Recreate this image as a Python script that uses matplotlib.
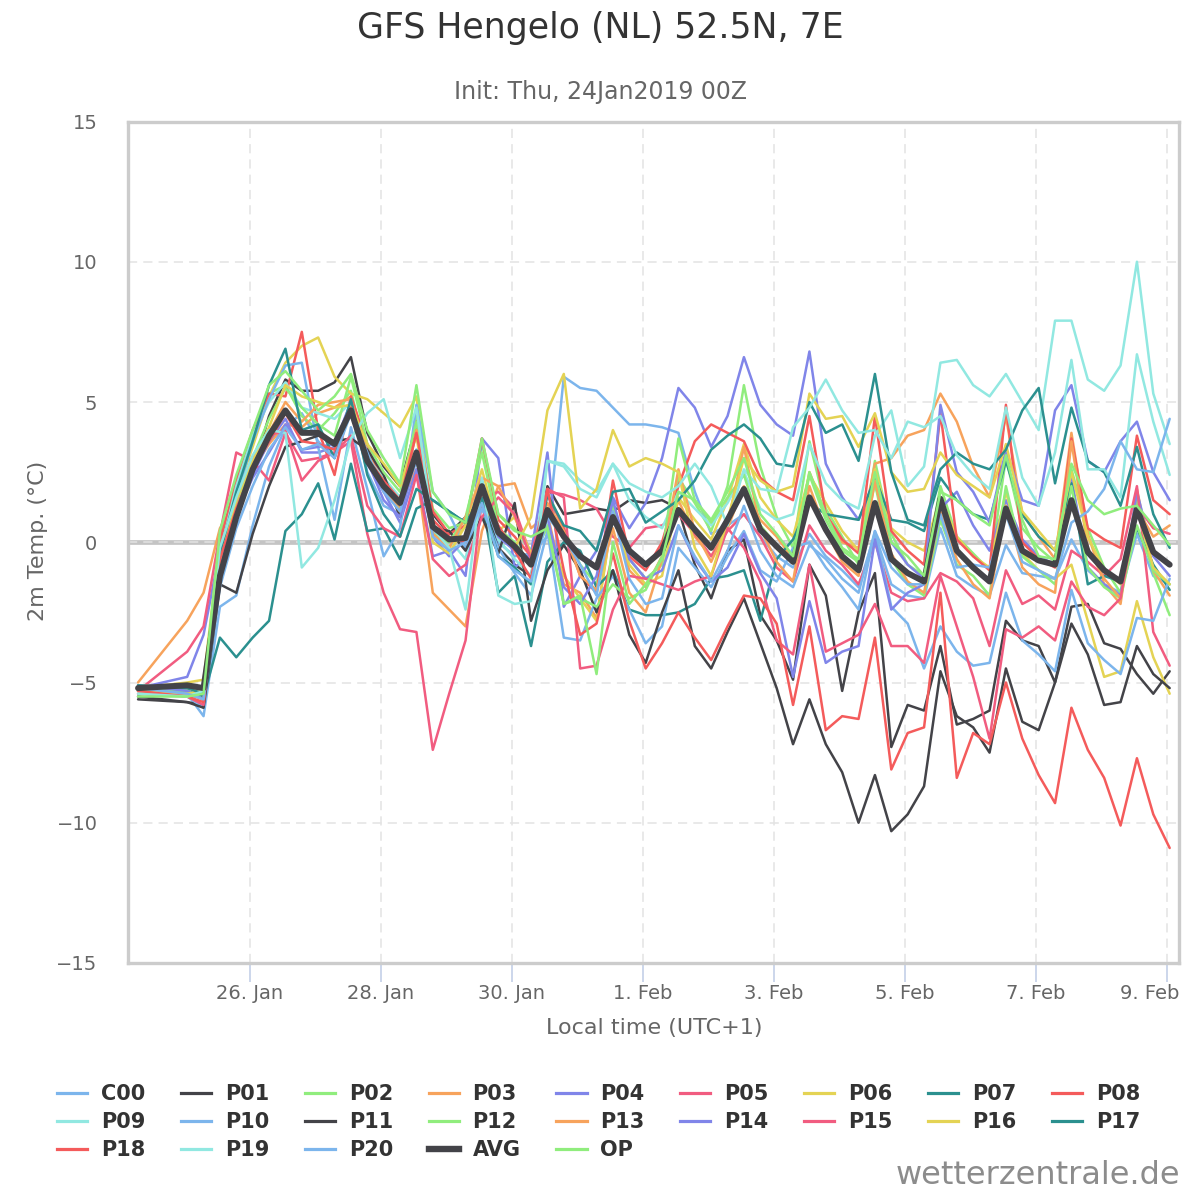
import pandas as pd
import matplotlib.pyplot as plt
from matplotlib.lines import Line2D
from matplotlib.transforms import ScaledTranslation

plt.rcParams['font.family'] = ['DejaVu Sans']

# time steps in local time (UTC+1): first step, then every 6 hours
times = pd.DatetimeIndex([pd.Timestamp('2019-01-24 07:00')] +
                         list(pd.date_range('2019-01-25 01:00', '2019-02-09 01:00', freq='6h')))

# 2m temperature (deg C) per ensemble member
C00 = [-5.3, -5.4, -6.2, -2.3, -1.9, 0.6, 2.7, 4.1,
       4.6, 3.6, 3.0, 4.9, 2.5, 1.3, 1.0, 2.9,
       0.4, 0.0, 0.6, 1.6, 0.0, -0.5, -0.4, 0.2,
       5.9, 5.5, 5.4, 4.8, 4.2, 4.2, 4.1, 3.9,
       1.8, 0.3, 0.6, 1.0, 0.2, -0.5, -0.9, 0.3,
       -0.5, -1.0, -1.6, 0.3, -1.5, -1.9, -2.0, 0.5,
       -1.2, -1.6, -1.9, -0.1, -1.1, -1.2, -1.3, 0.1,
       -1.0, -1.5, -1.8, 0.3, -1.2, -1.5]
P01 = [-5.5, -5.7, -5.8, -1.0, 0.8, 2.5, 4.5, 5.8,
       5.4, 5.4, 5.7, 6.6, 3.9, 2.7, 2.0, 4.2,
       1.0, 0.3, 0.9, 1.5, -0.2, -0.8, -1.2, 2.0,
       1.0, 1.1, 1.2, 1.1, 1.5, 1.4, 1.5, 1.2,
       -0.8, -2.0, -0.3, 0.1, -2.6, -3.5, -4.9, -0.8,
       -1.9, -5.3, -2.5, -1.1, -7.3, -5.8, -6.0, -3.7,
       -6.5, -6.3, -6.0, -2.8, -3.5, -3.7, -5.0, -2.3,
       -2.2, -3.6, -3.8, -4.7, -5.4, -4.6]
P02 = [-5.3, -5.5, -5.5, 0.2, 2.0, 3.5, 5.3, 5.6,
       4.5, 4.0, 4.6, 5.4, 3.0, 1.8, 1.2, 4.5,
       1.2, 0.5, 0.7, 3.5, 1.0, 0.5, -0.3, 1.8,
       0.5, -0.8, -1.5, 1.3, -0.6, -1.3, -0.8, 2.3,
       1.4, 0.4, 2.0, 5.6, 2.7, 0.9, -0.2, 3.6,
       1.2, 0.2, -0.8, 2.9, 0.3, -0.8, -1.2, 2.0,
       0.2, -0.4, -1.0, 3.0, 0.5, -0.2, -0.7, 2.6,
       0.5, -0.9, -1.8, 1.5, -1.1, -2.6]
P03 = [-5.0, -2.8, -1.8, 0.5, 1.5, 2.6, 3.5, 4.2,
       4.1, 4.6, 4.8, 5.2, 3.3, 2.1, 1.4, 2.6,
       -1.8, -2.4, -3.0, 0.4, 2.0, 2.1, 0.5, 1.0,
       -1.5, -1.8, -2.7, 1.0, -1.0, -1.6, -0.5, 1.5,
       0.2, -0.5, 0.5, 2.0, 0.8, 0.2, -0.6, 2.5,
       1.0, 0.0, -0.2, 2.8, 3.0, 3.8, 4.0, 5.3,
       4.3, 2.7, 1.6, 4.5, 1.0, 0.2, -0.6, 3.9,
       0.3, -1.5, -2.2, 1.9, -1.0, -1.9]
P04 = [-5.2, -4.8, -3.3, -0.3, 1.1, 2.4, 3.6, 4.4,
       3.2, 3.2, 3.4, 5.0, 2.8, 1.8, 0.7, 2.6,
       -0.5, -0.3, -1.2, 3.7, 3.0, -0.9, -0.4, 3.2,
       -2.3, -1.2, -0.3, 1.6, 0.5, 1.4, 3.0, 5.5,
       4.8, 3.4, 4.5, 6.6, 4.9, 4.2, 3.8, 6.8,
       2.8, 1.6, 0.8, 2.1, 0.0, -0.8, -1.3, 1.2,
       1.8, 0.6, -0.3, 1.5, 0.1, -0.5, -0.8, 2.3,
       -0.9, -1.5, -1.9, 1.8, -0.5, -1.2]
P05 = [-5.3, -3.9, -3.0, 0.3, 3.2, 2.9, 2.2, 3.9,
       2.9, 3.0, 3.2, 3.6, 0.3, -1.8, -3.1, -3.2,
       -7.4, -5.4, -3.5, 1.5, 1.8, 1.2, -0.5, 1.8,
       1.7, 1.5, 1.2, 0.2, -0.2, 0.5, 0.6, 1.0,
       0.3, -0.5, 0.4, 1.0, 0.2, -0.9, -1.4, 0.6,
       -0.3, -0.8, -1.5, 0.0, -1.8, -2.1, -2.0, -1.1,
       -1.4, -2.0, -3.7, -1.0, -2.2, -1.9, -2.4, -0.3,
       -0.7, -1.2, -0.6, 2.0, -3.2, -4.4]
P06 = [-5.2, -5.0, -4.9, 0.0, 1.7, 3.4, 5.2, 6.4,
       7.0, 7.3, 5.9, 5.3, 5.1, 4.6, 4.1, 5.2,
       0.5, -0.2, 0.6, 2.6, 0.4, 0.9, -0.4, 0.5,
       -1.2, -2.0, -2.8, 1.0, -0.8, -1.5, -1.2, 1.6,
       0.8, 0.1, 1.5, 3.5, 1.6, 0.8, 0.2, 2.4,
       1.4, 0.4, -0.3, 2.6, 0.5, 0.0, -0.3, 1.6,
       0.2, -0.5, -0.9, 1.8, -0.4, -1.0, -1.3, -0.8,
       -2.8, -4.8, -4.6, -2.1, -4.1, -5.4]
P07 = [-5.2, -5.3, -5.5, -3.4, -4.1, -3.4, -2.8, 0.4,
       1.0, 2.1, 0.1, 2.8, 0.4, 0.5, -0.6, 1.2,
       1.5, 1.1, 0.7, 1.5, -1.8, -1.2, -3.7, -0.7,
       0.0, -0.3, -1.6, -1.0, -2.4, -2.6, -2.6, -2.5,
       -2.2, -1.3, -1.2, -1.0, -2.8, -0.6, 0.1, 1.4,
       1.0, 0.9, 0.8, 2.3, 0.8, 0.7, 0.4, 2.3,
       1.5, 1.0, 0.8, 2.9, 1.0, 0.2, -0.3, 2.1,
       -1.5, -1.2, -1.4, 0.5, -0.8, -1.7]
P08 = [-5.3, -5.4, -5.6, 0.0, 2.2, 4.0, 5.3, 5.2,
       7.5, 4.0, 2.4, 5.2, 3.5, 2.1, 1.3, 4.3,
       1.1, 0.3, 0.6, 3.7, 0.8, 0.2, -0.5, 1.7,
       0.5, -1.2, -1.8, 2.2, -0.5, -1.0, 0.0, 2.0,
       3.6, 4.2, 3.9, 3.6, 2.3, 1.8, 1.5, 4.5,
       1.0, 0.1, -0.4, 4.5, 0.4, -0.3, -0.8, 4.6,
       0.1, -0.5, -1.0, 4.9, 0.0, -0.6, -0.9, 3.7,
       0.5, 0.1, -0.2, 3.8, 1.5, 1.0]
P09 = [-5.3, -5.2, -5.3, -0.4, 2.0, 3.8, 5.0, 5.7,
       4.8, 4.6, 4.4, 5.0, 3.0, 2.3, 1.6, 3.3,
       0.6, 0.1, -0.6, 2.2, 0.1, -0.6, -1.2, 2.9,
       2.8, 2.2, 1.8, 2.8, 1.5, 0.9, 0.5, 1.8,
       1.2, 0.6, 1.4, 2.5, 1.2, 0.8, 1.0, 3.5,
       2.1, 1.5, 1.2, 3.8, 4.7, 2.0, 2.7, 6.4,
       6.5, 5.6, 5.2, 6.0, 5.0, 4.0, 7.9, 7.9,
       5.8, 5.4, 6.3, 10.0, 5.3, 3.5]
P10 = [-5.3, -5.5, -5.9, -0.8, 1.6, 3.6, 5.1, 6.3,
       6.4, 3.4, 0.8, 4.1, 1.9, -0.5, 0.5, 4.9,
       1.8, 1.0, -0.2, 1.2, -0.2, -1.1, -1.9, 0.4,
       -3.4, -3.5, -2.0, -1.2, -2.4, -3.6, -3.0, -0.2,
       -0.9, -1.6, -0.5, 0.4, -1.0, -1.4, -0.2, 0.0,
       -0.9, -1.6, -2.4, 0.4, -2.3, -2.9, -4.5, -3.0,
       -3.9, -4.4, -4.3, -1.8, -3.5, -4.0, -4.6, -1.7,
       -3.6, -4.2, -4.7, -2.7, -2.8, -1.3]
P11 = [-5.6, -5.7, -5.9, -1.5, -1.8, 0.3, 2.0, 3.4,
       3.6, 3.8, 3.6, 3.7, 3.3, 2.4, 0.9, 4.2,
       0.5, 0.4, -0.3, 0.9, -0.4, 1.4, -2.8, -1.0,
       -0.1, -1.0, -2.5, -1.0, -3.3, -4.3, -2.5, -1.0,
       -3.7, -4.5, -3.2, -2.0, -3.6, -5.2, -7.2, -5.6,
       -7.2, -8.2, -10.0, -8.3, -10.3, -9.7, -8.7, -4.6,
       -6.2, -6.6, -7.5, -4.5, -6.4, -6.7, -5.0, -2.9,
       -4.0, -5.8, -5.7, -3.7, -4.7, -5.2]
P12 = [-5.2, -5.3, -5.6, -0.5, 1.3, 3.0, 4.4, 5.5,
       4.8, 4.2, 3.8, 5.9, 3.5, 2.5, 1.8, 4.3,
       0.3, 0.0, 0.9, 3.2, 0.5, 0.0, -0.8, 0.6,
       -2.2, -2.0, -2.3, -1.5, -2.0, -1.7, -0.5, 3.7,
       1.5, 0.7, 1.6, 2.4, 0.6, -0.1, -0.6, 2.4,
       0.8, -0.3, -0.7, 2.1, -0.6, -1.5, -1.9, 0.8,
       -0.8, -1.2, -1.9, 2.0, -0.5, -1.0, -1.5, 2.0,
       -0.9, -1.6, -2.0, 0.6, -1.0, -1.5]
P13 = [-5.1, -5.2, -5.4, -0.8, 1.2, 2.6, 3.9, 5.0,
       4.3, 4.9, 5.0, 5.1, 3.0, 2.0, 1.1, 4.0,
       0.3, -0.2, 0.9, 2.3, 2.0, 0.9, -0.5, 1.4,
       0.4, -1.2, -1.7, 0.5, -1.8, -2.5, -0.6, 2.6,
       0.4, -0.7, 0.6, 3.4, 0.5, -0.7, -1.4, 2.0,
       0.4, -0.7, -1.2, 2.2, -0.4, -1.4, -1.8, 1.1,
       -0.6, -1.5, -2.0, 1.3, -0.9, -1.5, -1.8, 3.6,
       -0.2, -1.3, -2.0, 1.2, 0.2, 0.6]
P14 = [-5.1, -5.3, -5.6, -0.9, 1.0, 2.3, 3.2, 4.2,
       3.3, 3.4, 3.5, 5.0, 2.9, 1.5, 0.9, 3.1,
       0.2, -0.5, 0.1, 2.2, 0.2, -0.3, -0.6, 0.9,
       -1.6, -2.2, -1.2, 1.5, -0.6, -1.3, -1.0, 0.6,
       -0.6, -1.4, -0.9, 0.3, -1.1, -2.0, -4.8, -2.1,
       -4.3, -3.9, -3.7, 0.1, -2.4, -1.8, -1.5, 4.9,
       2.5, 1.8, 0.7, 3.3, 1.5, 1.3, 4.7, 5.6,
       2.9, 2.5, 3.6, 4.3, 2.5, 1.5]
P15 = [-5.4, -5.5, -5.8, -0.2, 1.5, 3.0, 3.8, 4.0,
       2.2, 2.9, 3.2, 3.8, 1.3, 0.5, 0.2, 2.4,
       -0.6, -1.2, -0.8, 0.9, 1.6, 1.0, -0.6, 1.9,
       1.6, -4.5, -4.4, -2.4, -1.2, -1.3, -1.5, -1.7,
       -1.4, -1.2, 0.5, -0.2, -1.4, -3.5, -4.0, -0.8,
       -3.9, -3.6, -3.3, -2.2, -3.7, -3.7, -4.3, -1.2,
       -3.0, -4.8, -7.0, -3.1, -3.4, -3.0, -3.5, -1.4,
       -2.3, -2.6, -2.0, 1.3, 0.5, 0.3]
P16 = [-5.3, -5.4, -5.3, -0.6, 1.5, 2.9, 4.1, 5.6,
       5.2, 5.0, 4.8, 4.9, 3.5, 2.8, 2.0, 3.8,
       0.0, -0.4, 0.6, 1.8, 0.4, -0.2, 0.9, 4.7,
       6.0, 1.2, 1.9, 4.0, 2.7, 3.0, 2.8, 2.5,
       -0.2, -1.2, 0.8, 3.0, 2.2, 1.8, 2.0, 5.3,
       4.4, 4.5, 3.4, 4.6, 2.5, 1.8, 1.9, 3.2,
       2.4, 2.0, 1.6, 3.5, 1.1, 0.4, -0.3, 2.5,
       0.2, -1.0, -1.5, 1.2, -0.9, -1.5]
P17 = [-5.1, -5.2, -5.4, -0.4, 1.8, 3.6, 5.6, 6.9,
       4.0, 4.2, 3.0, 5.1, 2.4, 1.0, 0.2, 1.9,
       1.5, 1.1, 0.7, 1.6, -0.5, -0.9, -1.5, 1.7,
       0.6, 0.4, -0.3, 1.8, 1.9, 0.7, 1.1, 1.5,
       2.2, 3.3, 3.8, 4.2, 3.7, 2.8, 2.7, 5.0,
       3.9, 4.2, 2.9, 6.0, 2.5, 0.8, 0.6, 2.6,
       3.2, 2.8, 2.6, 3.3, 4.7, 5.5, 2.1, 4.8,
       2.9, 2.5, 1.3, 3.4, 1.0, -0.2]
P18 = [-5.3, -5.5, -5.7, -0.6, 1.2, 2.6, 3.6, 4.6,
       3.6, 3.5, 3.3, 4.8, 3.0, 2.2, 1.5, 3.9,
       0.8, 0.2, 0.0, 1.8, 0.6, -0.3, -1.3, 1.9,
       -1.0, -3.3, -2.9, -0.4, -2.8, -4.5, -3.6, -2.5,
       -3.4, -4.2, -3.0, -1.9, -2.0, -2.9, -5.8, -3.0,
       -6.7, -6.2, -6.3, -3.4, -8.1, -6.8, -6.6, -1.8,
       -8.4, -6.8, -7.2, -5.0, -7.0, -8.3, -9.3, -5.9,
       -7.4, -8.4, -10.1, -7.7, -9.7, -10.9]
P19 = [-5.4, -5.5, -5.3, -0.2, 1.6, 3.1, 4.0, 3.9,
       -0.9, -0.2, 1.5, 3.7, 4.6, 5.1, 3.0, 4.8,
       0.5, -0.2, -2.4, 2.3, -1.9, -2.2, -2.1, 2.9,
       2.7, 1.9, 1.6, 2.8, 2.1, 1.8, 1.6, 2.0,
       2.8, 2.0, 0.6, 2.6, 1.9, 1.8, 4.1, 4.8,
       5.8, 4.7, 3.9, 4.0, 3.0, 4.3, 4.1, 4.5,
       3.1, 2.4, 1.9, 4.8, 2.3, 1.3, 3.2, 6.5,
       2.6, 2.6, 1.6, 6.7, 4.3, 2.4]
P20 = [-5.2, -5.4, -5.6, -1.6, 0.5, 2.0, 3.3, 4.1,
       3.3, 3.5, 3.0, 4.6, 3.2, 1.8, 1.1, 3.3,
       0.2, -0.3, 0.0, 1.4, -0.5, -1.0, -1.4, 0.9,
       0.2, -0.8, -1.9, 1.1, -1.3, -2.2, -2.0, 0.6,
       -0.5, -1.4, -0.3, 1.3, -0.3, -1.2, -1.6, -0.1,
       -0.6, -1.3, -1.8, 0.4, -0.9, -1.5, -1.5, 1.0,
       -0.9, -0.8, -0.9, 1.0, -0.7, -1.0, -1.3, 0.7,
       1.1, 1.9, 3.6, 2.6, 2.5, 4.4]
AVG = [-5.2, -5.1, -5.2, -1.2, 0.9, 2.6, 3.8, 4.7,
       3.9, 3.9, 3.5, 4.7, 2.9, 2.0, 1.4, 3.2,
       0.55, 0.1, 0.15, 2.0, 0.35, -0.15, -0.8, 1.15,
       0.2, -0.5, -0.9, 0.9, -0.3, -0.8, -0.3, 1.15,
       0.45, -0.2, 0.8, 1.9, 0.45, -0.15, -0.7, 1.6,
       0.45, -0.5, -1.0, 1.4, -0.6, -1.1, -1.4, 1.55,
       -0.3, -0.9, -1.4, 1.2, -0.3, -0.65, -0.8, 1.5,
       -0.35, -1.0, -1.4, 1.2, -0.35, -0.8]
OP = [-5.5, -5.5, -5.4, 0.4, 2.4, 4.0, 5.6, 6.1,
      5.4, 4.7, 5.2, 6.0, 4.0, 3.0, 2.1, 5.6,
      1.8, 1.0, 0.7, 3.7, 1.0, 0.4, 0.2, 0.5,
      -2.2, -1.9, -4.7, 0.0, -2.2, -1.5, -0.6, 1.8,
      1.5, 0.8, 1.8, 3.0, 1.0, 0.3, -0.5, 2.5,
      1.0, -0.2, -0.6, 2.5, 0.0, -0.5, -1.2, 1.8,
      1.5, 1.0, 0.6, 3.1, 0.8, -0.5, -0.6, 2.8,
      1.5, 1.0, 1.2, 1.3, 0.6, -0.1]

names = ['C00', 'P01', 'P02', 'P03', 'P04', 'P05', 'P06', 'P07', 'P08', 'P09',
         'P10', 'P11', 'P12', 'P13', 'P14', 'P15', 'P16', 'P17', 'P18', 'P19',
         'P20', 'AVG', 'OP']
series = [C00, P01, P02, P03, P04, P05, P06, P07, P08, P09,
          P10, P11, P12, P13, P14, P15, P16, P17, P18, P19,
          P20, AVG, OP]
# colours repeat every 10 series
palette = ['#7cb5ec', '#434348', '#90ed7d', '#f7a35c', '#8085e9',
           '#f15c80', '#e4d354', '#2b908f', '#f45b5b', '#91e8e1']

fig = plt.figure(figsize=(12, 12), dpi=100)
ax = fig.add_axes([0.1067, 0.1975, 0.8758, 0.70125])

proxies = []
for i, (name, vals) in enumerate(zip(names, series)):
    lw = 4.3 if name == 'AVG' else 1.8
    ax.plot(times, vals, color=palette[i % 10], lw=lw, label=name,
            solid_joinstyle='round', solid_capstyle='round', zorder=3)
    # legend keys are drawn a little thicker than the lines
    proxies.append(Line2D([], [], color=palette[i % 10], lw=4.6 if name == 'AVG' else 2.3))

# zero line band + dashed grid
ax.axhline(0, color='#c4c4c4', lw=3.4, zorder=0.4)
ax.set_axisbelow(True)
ax.grid(True, color='#e3e3e3', linestyle=(0, (6, 4)), linewidth=1.1)

ax.set_xlim(pd.Timestamp('2019-01-24 03:20'), pd.Timestamp('2019-02-09 04:25'))
ax.set_ylim(-15, 15)
ax.set_yticks(range(-15, 16, 5))

ticks = pd.date_range('2019-01-26', '2019-02-09', freq='2D')
ax.set_xticks(ticks)
ax.set_xticklabels([f"{t.day}. {t.strftime('%b')}" for t in ticks])

for s in ax.spines.values():
    s.set_color('#cccccc')
    s.set_linewidth(2.4)

ax.tick_params(axis='x', direction='out', length=14, width=1.4, color='#ccd6eb',
               labelsize=14, labelcolor='#666666', pad=1)
ax.tick_params(axis='y', length=0, labelsize=14, labelcolor='#666666', pad=22)

# last label sits left of its tick so it stays inside the picture
last = ax.get_xticklabels()[-1]
last.set_transform(last.get_transform() + ScaledTranslation(-0.17, 0, fig.dpi_scale_trans))

fig.text(0.5, 1 - 28 / 1200, 'GFS Hengelo (NL) 52.5N, 7E', ha='center', va='center',
         fontsize=25, color='#333333')
fig.text(0.5, 1 - 92 / 1200, 'Init: Thu, 24Jan2019 00Z', ha='center', va='center',
         fontsize=17, color='#666666')
fig.text(654 / 1200, 1 - 1028 / 1200, 'Local time (UTC+1)', ha='center', va='center',
         fontsize=16, color='#666666')
fig.text(38 / 1200, 1 - 541 / 1200, '2m Temp. (°C)', ha='center', va='center',
         rotation=90, fontsize=16, color='#666666')

# legend is filled row by row in the original, matplotlib fills columns
order = [r * 9 + c for c in range(9) for r in range(3) if r * 9 + c < len(names)]
fig.legend([proxies[i] for i in order], [names[i] for i in order], ncol=9,
           loc='upper left', bbox_to_anchor=(57 / 1200, 1 - 1084 / 1200),
           frameon=False, prop={'weight': 'bold', 'size': 15}, labelcolor='#333333',
           handlelength=1.45, handletextpad=0.65, columnspacing=1.72,
           labelspacing=0.38, borderaxespad=0, borderpad=0)

fig.text(1180 / 1200, 1 - 1175 / 1200, 'wetterzentrale.de', ha='right', va='center',
         fontsize=23, color='#8c8c8c')

plt.savefig('out.png', dpi=100)
